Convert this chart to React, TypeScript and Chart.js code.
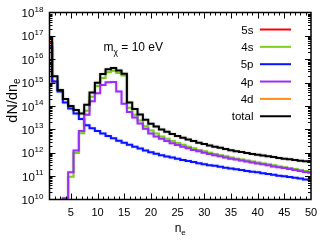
import React, { useEffect, useRef } from 'react';
import { Chart, registerables } from 'chart.js';

Chart.register(...registerables);

// number of electrons n_e (bin centres)
const nValues = [
  1, 2, 3, 4, 5, 6, 7, 8, 9, 10, 11, 12, 13, 14, 15, 16, 17, 18, 19, 20, 21, 22, 23, 24, 25,
  26, 27, 28, 29, 30, 31, 32, 33, 34, 35, 36, 37, 38, 39, 40, 41, 42, 43, 44, 45, 46, 47, 48, 49, 50,
];

const shell5s: (number | null)[] = [
  5.0e16, 1.12e15, null, null, null, null, null, null, null, null, null, null, null, null, null, null, null,
  null, null, null, null, null, null, null, null, null, null, null, null, null, null, null, null, null,
  null, null, null, null, null, null, null, null, null, null, null, null, null, null, null, null,
];

const shell4s: (number | null)[] = [
  null, null, 1e9, 1.07e10, 9.5e10, 9.8e11, 6.9e12, 6.3e13, 2.5e14, 7.1e14,
  1.58e15, 2.8e15, 3.2e15, 2.6e15, 2.0e15, 8.5e13, 4.2e13, 2.4e13, 1.35e13, 8.9e12,
  6.6e12, 5.0e12, 4.0e12, 3.2e12, 2.6e12, 2.2e12, 1.82e12, 1.55e12, 1.32e12, 1.15e12,
  1.0e12, 8.9e11, 7.9e11, 7.1e11, 6.3e11, 5.6e11, 5.1e11, 4.7e11, 4.2e11, 3.8e11,
  3.5e11, 3.2e11, 2.9e11, 2.6e11, 2.4e11, 2.2e11, 2.0e11, 1.82e11, 1.66e11, 1.51e11,
];

const shell5p: (number | null)[] = [
  3.2e16, 1.12e15, 4.2e14, 1.41e14, 7.9e13, 4.8e13, 2.8e13, 1.5e13, 1.12e13, 8.5e12,
  6.6e12, 5.2e12, 4.2e12, 3.3e12, 2.7e12, 2.2e12, 1.82e12, 1.51e12, 1.26e12, 1.05e12,
  9.1e11, 7.9e11, 6.9e11, 6.2e11, 5.5e11, 4.9e11, 4.4e11, 4.0e11, 3.55e11, 3.2e11,
  2.95e11, 2.75e11, 2.5e11, 2.3e11, 2.14e11, 1.95e11, 1.82e11, 1.66e11, 1.55e11, 1.45e11,
  1.32e11, 1.23e11, 1.15e11, 1.05e11, 9.8e10, 9.1e10, 8.5e10, 7.9e10, 7.2e10, 6.8e10,
];

const shell4p: (number | null)[] = [
  null, null, 1e9, 1.12e10, 1.48e11, 1.26e12, 8.5e12, 4.2e13, 1.58e14, 3.55e14,
  7.9e14, 1.05e15, 1.07e15, 4.2e14, 1.26e14, 5.6e13, 3.2e13, 1.78e13, 1.07e13, 6.6e12,
  5.0e12, 4.0e12, 3.2e12, 2.57e12, 2.14e12, 1.82e12, 1.55e12, 1.32e12, 1.15e12, 1.0e12,
  8.9e11, 7.9e11, 7.1e11, 6.3e11, 5.6e11, 5.1e11, 4.7e11, 4.2e11, 3.8e11, 3.5e11,
  3.2e11, 2.9e11, 2.6e11, 2.4e11, 2.2e11, 2.0e11, 1.82e11, 1.66e11, 1.51e11, 1.38e11,
];

const shell4d: (number | null)[] = [
  null, null, null, null, null, null, null, null, null, null, null, null, null, null, null, null, null,
  null, null, null, null, null, null, null, null, null, null, null, null, null, null, null, null, null,
  null, null, null, null, null, null, null, null, null, null, null, null, null, null, null, null,
];

const totalValues: (number | null)[] = [
  8.9e16, 1.86e15, 4.8e14, 2.0e14, 1.0e14, 6.8e13, 4.8e13, 1.12e14, 3.8e14, 1.0e15,
  2.34e15, 3.7e15, 4.2e15, 3.3e15, 2.4e15, 1.41e14, 7.4e13, 4.3e13, 2.6e13, 1.74e13,
  1.32e13, 1.0e13, 7.9e12, 6.3e12, 5.2e12, 4.4e12, 3.7e12, 3.2e12, 2.7e12, 2.34e12,
  2.04e12, 1.82e12, 1.62e12, 1.45e12, 1.29e12, 1.17e12, 1.07e12, 9.8e11, 8.9e11, 8.3e11,
  7.6e11, 7.1e11, 6.5e11, 6.0e11, 5.6e11, 5.25e11, 4.9e11, 4.6e11, 4.3e11, 4.0e11,
];

const seriesLabels = ['5s', '4s', '5p', '4p', '4d', 'total'];
const seriesColors = ['#ff0000', '#7ccf20', '#0a14ff', '#9a2ff5', '#ff8c1a', '#000000'];
const seriesHalo = [
  'rgba(255,0,0,0.35)',
  'rgba(124,207,32,0.35)',
  'rgba(10,20,255,0.3)',
  'rgba(154,47,245,0.3)',
  'rgba(255,140,26,0.35)',
  'rgba(0,0,0,0.3)',
];
const seriesData = [shell5s, shell4s, shell5p, shell4p, shell4d, totalValues];

const xMin = 1;
const xMax = 50;
const xTickLabels = [5, 10, 15, 20, 25, 30, 35, 40, 45, 50];
const yDecadeExponents = [10, 11, 12, 13, 14, 15, 16, 17, 18];

const FONT = '"Liberation Sans", Arial, Helvetica, sans-serif';

const haloPlugin = {
  id: 'halo',
  beforeDatasetDraw(chart: any, args: any) {
    const ctx = chart.ctx;
    ctx.save();
    ctx.shadowColor = seriesHalo[args.index] || 'rgba(0,0,0,0.3)';
    ctx.shadowBlur = 2;
    ctx.shadowOffsetX = 0;
    ctx.shadowOffsetY = 0;
  },
  afterDatasetDraw(chart: any) {
    chart.ctx.restore();
  },
};

const decorPlugin = {
  id: 'decor',
  afterDatasetsDraw(chart: any) {
    const { ctx, chartArea: a, scales } = chart;
    const xs = scales.x;
    const ys = scales.y;
    ctx.save();
    ctx.strokeStyle = '#000';
    ctx.fillStyle = '#000';

    // ticks (inward, on all four sides)
    ctx.lineWidth = 1;
    ctx.beginPath();
    for (let n = xMin + 1; n < xMax; n++) {
      const px = Math.round(xs.getPixelForValue(n)) + 0.5;
      const len = n % 5 === 0 ? 6 : 3;
      ctx.moveTo(px, a.bottom);
      ctx.lineTo(px, a.bottom - len);
      ctx.moveTo(px, a.top);
      ctx.lineTo(px, a.top + len);
    }
    for (let e = yDecadeExponents[0]; e < yDecadeExponents[yDecadeExponents.length - 1]; e++) {
      for (let m = 1; m <= 9; m++) {
        if (m === 1 && e === yDecadeExponents[0]) continue;
        const py = Math.round(ys.getPixelForValue(m * Math.pow(10, e))) + 0.5;
        const len = m === 1 ? 6 : 3;
        ctx.moveTo(a.left, py);
        ctx.lineTo(a.left + len, py);
        ctx.moveTo(a.right, py);
        ctx.lineTo(a.right - len, py);
      }
    }
    ctx.stroke();

    // frame
    ctx.lineWidth = 1.5;
    ctx.strokeRect(a.left, a.top, a.right - a.left, a.bottom - a.top);

    // x tick labels
    ctx.font = `11px ${FONT}`;
    ctx.textAlign = 'center';
    ctx.textBaseline = 'alphabetic';
    xTickLabels.forEach((v) => {
      ctx.fillText(String(v), xs.getPixelForValue(v), 216);
    });

    // y tick labels: 10^k
    yDecadeExponents.forEach((k) => {
      const py = ys.getPixelForValue(Math.pow(10, k));
      const rightX = 43.5;
      ctx.font = `8px ${FONT}`;
      ctx.textAlign = 'right';
      const expStr = String(k);
      const ew = ctx.measureText(expStr).width;
      ctx.fillText(expStr, rightX, py - 1);
      ctx.font = `11.5px ${FONT}`;
      ctx.fillText('10', rightX - ew - 0.3, py + 4.5);
    });

    // x axis title n_e
    ctx.textAlign = 'left';
    ctx.font = `12px ${FONT}`;
    const nW = ctx.measureText('n').width;
    ctx.font = `8px ${FONT}`;
    const eW = ctx.measureText('e').width;
    const cx = (a.left + a.right) / 2;
    const sx = cx - (nW + eW) / 2;
    ctx.font = `12px ${FONT}`;
    ctx.fillText('n', sx, 232);
    ctx.font = `8px ${FONT}`;
    ctx.fillText('e', sx + nW, 235);

    // y axis title dN/dn_e (rotated)
    ctx.save();
    ctx.translate(16.5, 100.5);
    ctx.rotate(-Math.PI / 2);
    ctx.font = `14.5px ${FONT}`;
    const mainW = ctx.measureText('dN/dn').width;
    ctx.font = `10px ${FONT}`;
    const subW = ctx.measureText('e').width;
    const start = -(mainW + subW) / 2;
    ctx.font = `14.5px ${FONT}`;
    ctx.fillText('dN/dn', start, 0);
    ctx.font = `10px ${FONT}`;
    ctx.fillText('e', start + mainW, 3);
    ctx.restore();

    // annotation m_chi = 10 eV
    ctx.font = `12px ${FONT}`;
    ctx.textAlign = 'left';
    const mW = ctx.measureText('m').width;
    ctx.fillText('m', 103.5, 51);
    ctx.font = `8.5px ${FONT}`;
    const chiW = ctx.measureText('χ').width;
    ctx.fillText('χ', 103.5 + mW, 54.5);
    ctx.font = `12px ${FONT}`;
    ctx.fillText(' = 10 eV', 103.5 + mW + chiW, 51);

    // legend (text left of line sample)
    ctx.font = `11.5px ${FONT}`;
    ctx.textAlign = 'right';
    seriesLabels.forEach((label, i) => {
      const ry = 29.5 + i * 17.35;
      ctx.fillStyle = '#000';
      ctx.fillText(label, 253.5, ry + 4);
      ctx.strokeStyle = seriesColors[i];
      ctx.lineWidth = 2;
      ctx.beginPath();
      ctx.moveTo(260, ry);
      ctx.lineTo(291, ry);
      ctx.stroke();
    });

    ctx.restore();
  },
};

export default function App() {
  const canvasRef = useRef<HTMLCanvasElement | null>(null);

  useEffect(() => {
    document.body.style.margin = '0';
    const canvas = canvasRef.current;
    if (!canvas) return;
    const datasets = seriesData.map((arr, i) => ({
      label: seriesLabels[i],
      data: nValues.map((n, j) => ({ x: n, y: arr[j] })),
      borderColor: seriesColors[i],
      backgroundColor: seriesColors[i],
      borderWidth: 2,
      stepped: 'middle' as const,
      pointRadius: 0,
      fill: false,
      spanGaps: false,
      order: seriesLabels.length - 1 - i,
    }));
    const chart = new Chart(canvas, {
      type: 'line',
      data: { datasets },
      options: {
        animation: false,
        responsive: false,
        devicePixelRatio: 1,
        layout: { padding: { left: 49.5, right: 21, top: 12.5, bottom: 49.5 } },
        scales: {
          x: { type: 'linear', min: xMin, max: xMax, display: false },
          y: { type: 'logarithmic', min: 1e10, max: 1e18, display: false },
        },
        plugins: {
          legend: { display: false },
          tooltip: { enabled: false },
        },
        events: [],
      },
      plugins: [haloPlugin, decorPlugin],
    } as any);
    return () => chart.destroy();
  }, []);

  return (
    <div style={{ position: 'absolute', left: 0, top: 0, width: 332, height: 249, background: '#fff' }}>
      <canvas ref={canvasRef} width={332} height={249} />
    </div>
  );
}
